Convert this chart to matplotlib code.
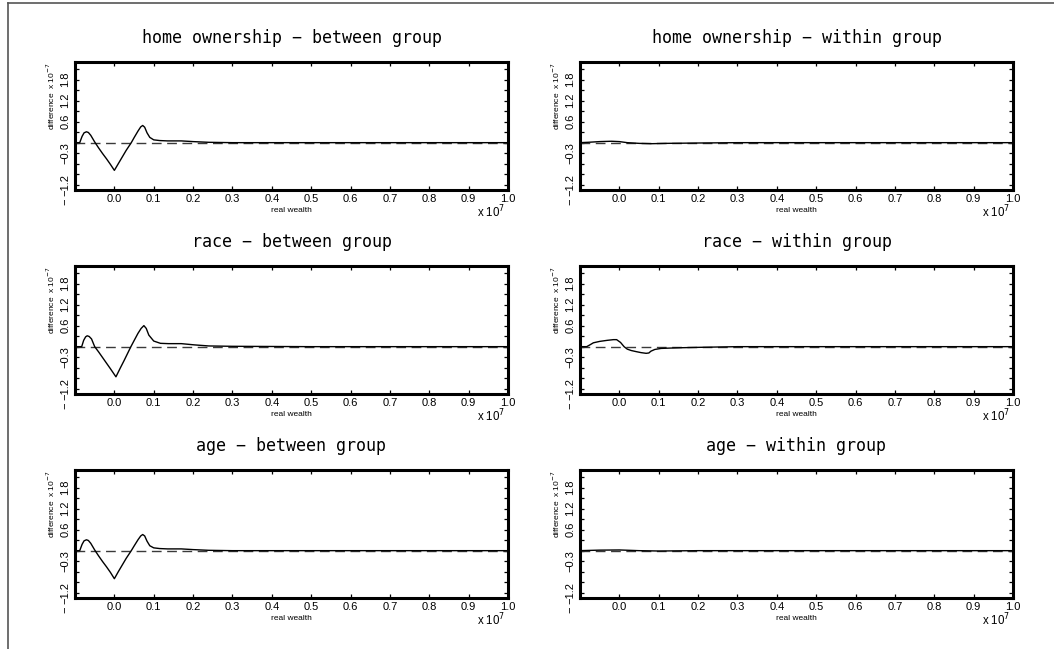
import matplotlib
matplotlib.use("Agg")
import matplotlib.pyplot as plt
from matplotlib.lines import Line2D

# ---------------- data (x in units of 1e7, y in units of 1e-7) ----------------
titles = [
    "home ownership \u2212 between group", "home ownership \u2212 within group",
    "race \u2212 between group", "race \u2212 within group",
    "age \u2212 between group", "age \u2212 within group",
]

home_between_x = [-0.1, -0.088, -0.082, -0.077, -0.071, -0.066, -0.06, -0.05, -0.04, -0.03,
                  -0.02, -0.01, 0.0, 0.01, 0.02, 0.03, 0.043, 0.05, 0.06, 0.067, 0.072,
                  0.077, 0.083, 0.09, 0.1, 0.115, 0.135, 0.17, 0.2, 0.24, 0.3, 0.5, 1.0]
home_between_y = [0.0, 0.0, 0.18, 0.28, 0.31, 0.29, 0.21, 0.02, -0.15, -0.31,
                  -0.46, -0.62, -0.79, -0.6, -0.41, -0.22, 0.0, 0.14, 0.33, 0.45, 0.49,
                  0.44, 0.28, 0.15, 0.08, 0.06, 0.05, 0.05, 0.03, 0.01, 0.0, 0.0, 0.0]

home_within_x = [-0.1, -0.08, -0.05, -0.02, 0.0, 0.02, 0.05, 0.08, 0.12, 0.2, 0.3, 1.0]
home_within_y = [0.0, 0.01, 0.03, 0.04, 0.03, 0.0, -0.02, -0.03, -0.02, -0.01, 0.0, 0.0]

race_between_x = [-0.1, -0.083, -0.078, -0.073, -0.069, -0.064, -0.058, -0.05, -0.04, -0.03,
                  -0.02, -0.01, 0.004, 0.015, 0.025, 0.035, 0.042, 0.05, 0.06, 0.068, 0.075,
                  0.081, 0.0875, 0.1, 0.117, 0.1375, 0.17, 0.204, 0.24, 0.3, 0.5, 1.0]
race_between_y = [0.0, 0.0, 0.18, 0.28, 0.31, 0.29, 0.22, 0.0, -0.15, -0.31,
                  -0.47, -0.63, -0.86, -0.61, -0.39, -0.16, 0.0, 0.17, 0.38, 0.52, 0.6,
                  0.52, 0.33, 0.16, 0.095, 0.086, 0.086, 0.05, 0.02, 0.01, 0.0, 0.0]

race_within_x = [-0.1, -0.083, -0.075, -0.066, -0.05, -0.031, -0.015, -0.007, 0.003, 0.012,
                 0.02, 0.03, 0.042, 0.055, 0.068, 0.075, 0.08, 0.09, 0.106, 0.13, 0.16,
                 0.2, 0.25, 0.3, 1.0]
race_within_y = [0.0, 0.0, 0.05, 0.11, 0.15, 0.18, 0.2, 0.2, 0.12, 0.0,
                 -0.07, -0.11, -0.14, -0.17, -0.19, -0.18, -0.13, -0.08, -0.05, -0.04, -0.03,
                 -0.02, -0.01, 0.0, 0.0]

age_between_x = [-0.1, -0.088, -0.082, -0.077, -0.071, -0.066, -0.06, -0.05, -0.04, -0.03,
                 -0.02, -0.01, 0.0, 0.01, 0.02, 0.03, 0.043, 0.05, 0.06, 0.067, 0.072,
                 0.077, 0.083, 0.09, 0.1, 0.115, 0.135, 0.17, 0.2, 0.24, 0.3, 0.5, 1.0]
age_between_y = [0.0, 0.0, 0.18, 0.28, 0.31, 0.29, 0.21, 0.02, -0.15, -0.31,
                 -0.46, -0.62, -0.8, -0.6, -0.41, -0.22, 0.0, 0.13, 0.31, 0.42, 0.46,
                 0.42, 0.27, 0.14, 0.08, 0.06, 0.05, 0.05, 0.03, 0.01, 0.0, 0.0, 0.0]

age_within_x = [-0.1, -0.05, 0.0, 0.05, 0.1, 0.2, 1.0]
age_within_y = [0.0, 0.015, 0.02, 0.0, -0.01, 0.0, 0.0]

series = [
    (home_between_x, home_between_y), (home_within_x, home_within_y),
    (race_between_x, race_between_y), (race_within_x, race_within_y),
    (age_between_x, age_between_y), (age_within_x, age_within_y),
]

x_ticks = [-0.1, 0.0, 0.1, 0.2, 0.3, 0.4, 0.5, 0.6, 0.7, 0.8, 0.9, 1.0]
x_ticklabels = ["", "0.0", "0.1", "0.2", "0.3", "0.4", "0.5", "0.6", "0.7", "0.8", "0.9", "1.0"]
y_ticks = [-1.2, -0.9, -0.6, -0.3, 0.0, 0.3, 0.6, 0.9, 1.2, 1.5, 1.8, 2.1]
y_ticklabels = ["\u22121.2", "", "", "\u22120.3", "", "", "0.6", "", "1.2", "", "1.8", ""]
x_range = (-0.1, 1.0)
y_range = (-1.35, 2.3)

# ---------------- figure ----------------
W, H = 1054, 649
fig = plt.figure(figsize=(W / 100, H / 100), dpi=100)
plt.rcParams['font.family'] = ['Liberation Sans', 'DejaVu Sans']

col_left = [75, 580]
ax_w = 433
row_top = [62, 266, 470]
ax_h = 128

for i, (title, (xs, ys)) in enumerate(zip(titles, series)):
    r, c = divmod(i, 2)
    left = col_left[c] / W
    bottom = (H - row_top[r] - ax_h) / H
    ax = fig.add_axes([left, bottom, ax_w / W, ax_h / H])
    ax.set_xlim(*x_range)
    ax.set_ylim(*y_range)
    ax.plot(list(x_range), [0, 0], color='#3a3a3a', lw=1.0, dashes=(7, 4), zorder=2)
    ax.plot(xs, ys, color='black', lw=1.0, zorder=3)
    for s in ax.spines.values():
        s.set_linewidth(2.2)
    ax.set_xticks(x_ticks)
    ax.set_xticklabels(x_ticklabels)
    ax.set_yticks(y_ticks)
    ax.set_yticklabels(y_ticklabels)
    ax.tick_params(direction='in', length=3, width=0.9, top=True, right=True,
                   labelsize=8.0, pad=3)
    ax.tick_params(axis='y', labelrotation=90, pad=3.5)
    for lab in ax.get_yticklabels():
        lab.set_va('center')
    ax.set_xlabel("real wealth", fontsize=6, labelpad=2)
    ax.text(-24 / ax_w, 1.0, "difference  x 10$^{-7}$", rotation=90, fontsize=6,
            transform=ax.transAxes, ha='center', va='top')
    ax.text(1.0 - 3 / ax_w, -22 / ax_h, "x 10$^{7}$", fontsize=8.3,
            transform=ax.transAxes, ha='right', va='center')
    ax.text(-10 / ax_w, -12 / ax_h, "\u2212", rotation=90, fontsize=8.0,
            transform=ax.transAxes, ha='center', va='center')
    ax.text(0.5, 1 + 19 / ax_h, title, fontsize=12, family='DejaVu Sans Mono',
            transform=ax.transAxes, ha='center', va='baseline')

# page frame lines (top and left)
fig.add_artist(Line2D([7.5 / W, 1.0], [1 - 2.5 / H, 1 - 2.5 / H],
                      transform=fig.transFigure, color='#555555', lw=1.2))
fig.add_artist(Line2D([7.5 / W, 7.5 / W], [0.0, 1 - 2.5 / H],
                      transform=fig.transFigure, color='#555555', lw=1.2))

fig.savefig("out.png", dpi=100)
